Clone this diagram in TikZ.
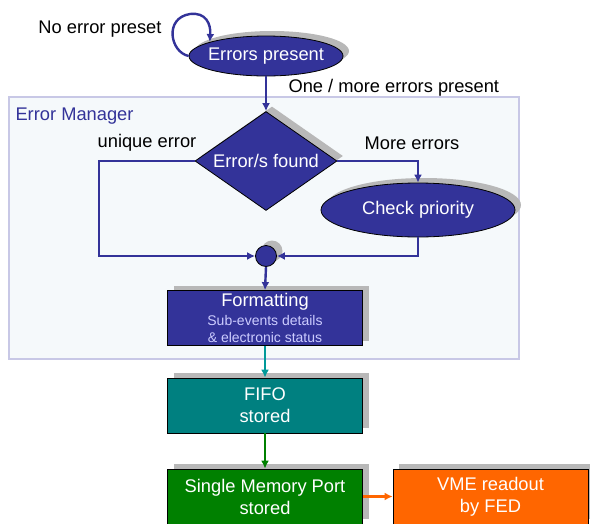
\documentclass[tikz,border=0pt]{standalone}
\usepackage{fontspec}
\setmainfont{Liberation Sans}
\usetikzlibrary{arrows.meta, shapes.geometric, shadows}

\definecolor{errblue}{HTML}{333399}
\definecolor{framecol}{HTML}{C8C8E6}
\definecolor{framefill}{HTML}{F5F9FB}
\definecolor{lightlav}{HTML}{CCCCFF}
\definecolor{fifocol}{HTML}{008080}
\definecolor{fifoarrow}{HTML}{009999}
\definecolor{smpcol}{HTML}{008000}
\definecolor{vmecol}{HTML}{FF6600}

\begin{document}
\begin{tikzpicture}[x=1pt,y=-1pt]
  \tikzstyle{big}=[font=\fontsize{18.3}{22}\selectfont]
  \tikzstyle{grayshadow}=[general shadow={fill=black!28, shadow xshift=6pt, shadow yshift=5pt}]
  \tikzstyle{ell}=[ellipse, draw=black, line width=0.8pt, fill=errblue, text=white, inner sep=0pt, big, grayshadow]
  \tikzstyle{dia}=[diamond, draw=black, line width=0.8pt, fill=errblue, text=white, inner sep=0pt, big, grayshadow]
  \tikzstyle{box}=[rectangle, draw=black, line width=0.8pt, text=white, inner sep=0pt, align=center,
                   minimum width=195, minimum height=55, big, grayshadow]
  \tikzstyle{flow}=[-{Latex[length=8pt,width=8pt]}, line width=2.4pt, color=errblue]

  \useasboundingbox (0,0) rectangle (590,523);
  \draw[fill=framefill, draw=framecol, line width=1.2pt] (9,97) rectangle (519,359); % Error Manager frame
  \node[anchor=west, text=errblue, big] (M) at (12,116) {Error Manager};

  \node[ell, minimum width=154, minimum height=40] (A) at (266,56) {\makebox[0pt]{Errors present}}; % Top ellipse
  \node[dia, minimum width=142, minimum height=99] (C) at (266,161) {\makebox[0pt]{Error/s found}};
  \node[ell, minimum width=194, minimum height=54] (D) at (418,210) {\makebox[0pt]{Check priority}}; % Right ellipse
  \node[circle, draw=black, line width=0.8pt, fill=errblue, minimum size=21, inner sep=0pt, grayshadow] (G) at (266,256) {};
  \node[box, fill=errblue] (F) at (265,318) {Formatting\\[-3pt]
    {\fontsize{14}{16}\selectfont\color{lightlav}Sub-events details}\\[-5pt]
    {\fontsize{14}{16}\selectfont\color{lightlav}\& electronic status}};
  \node[box, fill=fifocol] (H) at (265,405.5) {FIFO\\stored};
  \node[box, fill=smpcol] (I) at (265,496.5) {Single Memory Port\\stored};
  \node[box, fill=vmecol] (J) at (490.5,496.5) {VME readout\\by FED};

  \node[big] (N) at (100,29) {No error preset};
  \node[big, anchor=west] (O) at (285,88) {One / more errors present};
  \node[big] (P) at (147,143) {unique error};
  \node[big] (Q) at (412,143) {More errors};

  \coordinate (K) at (99,256); % Bottom-left corner
  \draw[flow] (A.west) .. controls (170,52) and (164,18) .. (190,14)
                       .. controls (206,12) and (211,24) .. (A.166); % Self loop
  \draw[flow] (A.south) -- (C.north);
  \draw[flow] (C.west) -| (K) -- (G.west); % Left branch
  \draw[flow] (C.east) -| (D.north); % Right branch
  \draw[flow] (D.south) |- (G.east);
  \draw[flow] (G.south) -- (F.north);
  \draw[flow, color=fifoarrow] (F.south) -- (H.north);
  \draw[flow, color=smpcol] (H.south) -- (I.north);
  \draw[flow, color=vmecol] (I.east) -- (J.west);
\end{tikzpicture}
\end{document}
